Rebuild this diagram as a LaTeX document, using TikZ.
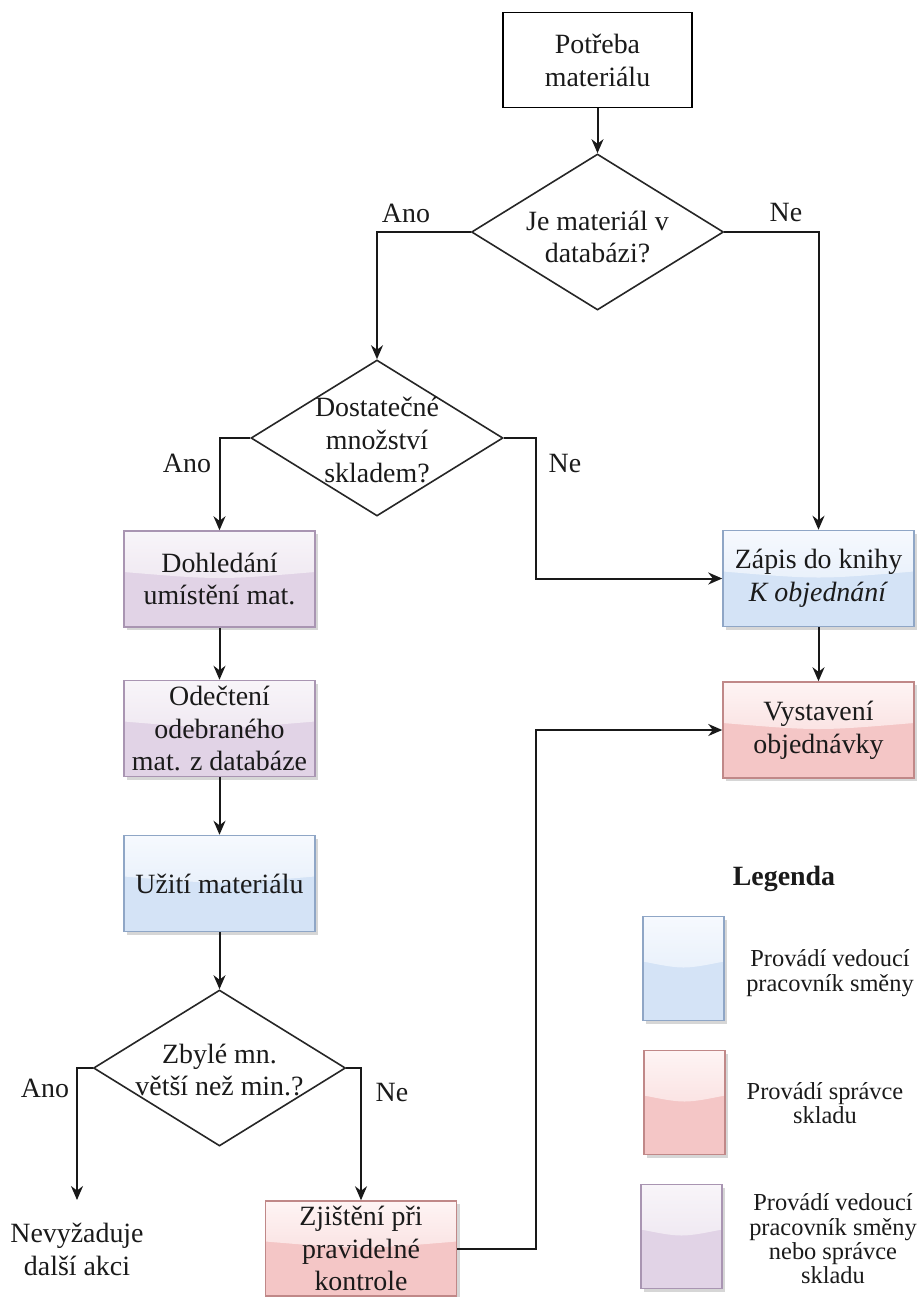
\documentclass[tikz,border=0pt]{standalone}
\usepackage{fontspec}
\setmainfont{Liberation Serif}
\usetikzlibrary{shapes.geometric,arrows.meta,shadows}
\definecolor{txt}{HTML}{1A1A1A}
\definecolor{bluetop}{HTML}{F6F9FE}
\definecolor{bluemid}{HTML}{DDE9F8}
\definecolor{bluebot}{HTML}{D4E3F6}
\definecolor{bluebord}{HTML}{8FA6C6}
\definecolor{redtop}{HTML}{FEF4F4}
\definecolor{redmid}{HTML}{F7D3D3}
\definecolor{redbot}{HTML}{F4C6C6}
\definecolor{redbord}{HTML}{C08888}
\definecolor{purtop}{HTML}{F8F5F9}
\definecolor{purmid}{HTML}{E8DDEB}
\definecolor{purbot}{HTML}{E1D3E6}
\definecolor{purbord}{HTML}{A995B2}
\newcommand\mainfs{\fontsize{28}{33}\selectfont}
\newcommand\legfs{\fontsize{24.5}{24.5}\selectfont}
\tikzset{
  basebox/.style={rectangle, minimum width=191bp, minimum height=96bp, align=center,
    font=\mainfs, text=txt, inner sep=2bp},
  startbox/.style={basebox, draw=black, line width=1.6bp, fill=white, minimum width=189bp, minimum height=95bp},
  proc/.style={basebox, draw=#1bord, line width=1.5bp, fill=#1bot,
    drop shadow={shadow xshift=3bp, shadow yshift=-3bp, fill=black!40, opacity=.4},
    path picture={\shade[top color=#1top, bottom color=#1mid]
      (path picture bounding box.north west) -- (path picture bounding box.north east)
      -- ([yshift=7bp]path picture bounding box.east)
      .. controls ([yshift=-1bp]path picture bounding box.center) and ([yshift=-1bp]path picture bounding box.center)
      .. ([yshift=7bp]path picture bounding box.west) -- cycle;}},
  legbox/.style={proc=#1, minimum width=81bp, minimum height=104bp},
  dec/.style={diamond, draw=black!85, line width=1.6bp, fill=white, minimum width=252bp,
    minimum height=156bp, inner sep=0pt},
  dtxt/.style={align=center, font=\mainfs, text=txt, inner sep=0pt},
  lab/.style={font=\mainfs, text=txt, inner sep=0pt},
  legtxt/.style={align=center, font=\legfs, text=txt, inner sep=0pt},
  arr/.style={draw=black!90, line width=2bp, -{Stealth[length=14bp,width=12bp]}},
}
\begin{document}
\begin{tikzpicture}[x=1bp,y=-1bp]
\useasboundingbox (0,0) rectangle (920,1297);
% nodes
\node[startbox] (start) at (597.5,60) {Potřeba\\materiálu};
\node[dec] (d1) at (597.5,232) {};
\node[dtxt] (d1t) at (597.5,237) {Je materiál v\\databázi?};
\node[dec] (d2) at (377,438) {};
\node[dtxt] (d2t) at (377,440) {Dostatečné\\množství\\skladem?};
\node[proc=pur] (dohl) at (219.5,579) {Dohledání\\umístění mat.};
\node[proc=pur] (odec) at (219.5,728.5) {Odečtení\\odebraného\\mat. z databáze};
\node[proc=blue] (uziti) at (219.5,883.5) {Užití materiálu};
\node[dec] (d3) at (219.5,1068) {};
\node[dtxt] (d3t) at (219.5,1070) {Zbylé mn.\\větší než min.?};
\node[proc=blue] (zapis) at (818.5,578.5) {Zápis do knihy\\\textit{K objednání}};
\node[proc=red] (vyst) at (818.5,730) {Vystavení\\objednávky};
\node[proc=red, minimum height=95bp] (zjist) at (361,1248.5) {Zjištění při\\pravidelné\\kontrole};
\node[dtxt] (nevy) at (77,1249) {Nevyžaduje\\další akci};
\coordinate (nevyIn) at (77,1200);
% labels
\node[lab] (ano1) at (406,213) {Ano};
\node[lab] (ne1) at (786,212) {Ne};
\node[lab] (ano2) at (187,463) {Ano};
\node[lab] (ne2) at (565,463) {Ne};
\node[lab] (ano3) at (45,1088) {Ano};
\node[lab] (ne3) at (392,1092) {Ne};
% connectors
\draw[arr] (start) -- (d1);
\draw[arr] (d1.west) -| (d2.north);
\draw[arr] (d1.east) -| (zapis.north);
\draw[arr] (d2.west) -| (dohl.north);
\draw[arr] (d2.east) -- ++(32,0) |- (zapis.west);
\draw[arr] (dohl) -- (odec);
\draw[arr] (odec) -- (uziti);
\draw[arr] (uziti) -- (d3);
\draw[arr] (zapis) -- (vyst);
\draw[arr] (d3.west) -| (nevyIn);
\draw[arr] (d3.east) -| (zjist.north);
\draw[arr] (zjist.east) -- ++(78.5,0) |- (vyst.west);
% legend
\node[font=\fontsize{28}{30}\selectfont\bfseries, text=txt, inner sep=0pt] (leg) at (784,879) {Legenda};
\node[legbox=blue] (lb1) at (683.5,968.5) {};
\node[legbox=red] (lb2) at (684.5,1102.5) {};
\node[legbox=pur] (lb3) at (681.5,1236.5) {};
\node[legtxt] (lt1) at (830,973) {Provádí vedoucí\\pracovník směny};
\node[legtxt] (lt2) at (825,1103) {Provádí správce\\skladu};
\node[legtxt] (lt3) at (833,1239) {Provádí vedoucí\\pracovník směny\\nebo správce\\skladu};
\end{tikzpicture}
\end{document}
